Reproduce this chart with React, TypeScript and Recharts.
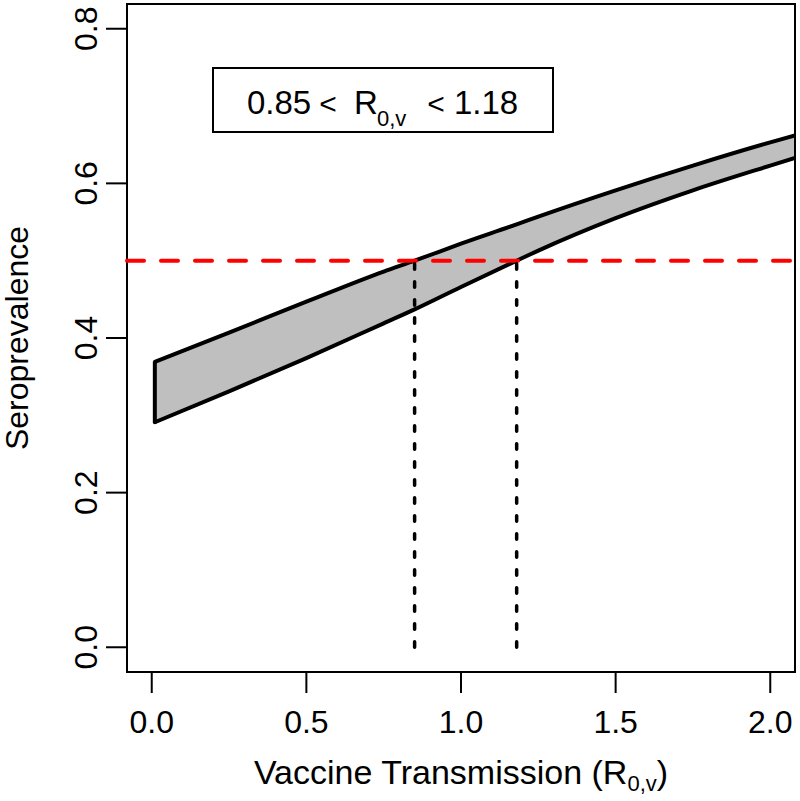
import React from "react";
import {
  ComposedChart,
  Area,
  Line,
  XAxis,
  YAxis,
  ReferenceLine,
  ReferenceArea,
} from "recharts";

// ---- data ----
const xValues = [0.01, 0.25, 0.5, 0.75, 0.85, 1.0, 1.18, 1.25, 1.5, 1.75, 2.0, 2.08];
const upperValues = [0.369, 0.407, 0.447, 0.486, 0.5, 0.522, 0.547, 0.557, 0.591, 0.623, 0.653, 0.662];
const lowerValues = [0.291, 0.331, 0.374, 0.419, 0.437, 0.466, 0.5, 0.513, 0.555, 0.591, 0.623, 0.633];

const xTicks = [0, 0.5, 1, 1.5, 2];
const xTickLabels = ["0.0", "0.5", "1.0", "1.5", "2.0"];
const yTicks = [0, 0.2, 0.4, 0.6, 0.8];
const yTickLabels = ["0.0", "0.2", "0.4", "0.6", "0.8"];

const threshold = 0.5;
const rLow = 0.85;
const rHigh = 1.18;

const data = xValues.map((x, i) => ({
  x,
  upper: upperValues[i],
  lower: lowerValues[i],
  band: [lowerValues[i], upperValues[i]],
}));

const FONT = "'Liberation Sans', Arial, Helvetica, sans-serif";

const XTick = (props: any) => {
  const { x, payload } = props;
  const idx = xTicks.indexOf(payload.value);
  return (
    <text x={x} y={733} textAnchor="middle" fontSize={32} fontFamily={FONT} fill="#000">
      {idx >= 0 ? xTickLabels[idx] : payload.value}
    </text>
  );
};

const YTick = (props: any) => {
  const { y, payload } = props;
  const idx = yTicks.indexOf(payload.value);
  const tx = 97;
  return (
    <text
      x={tx}
      y={y}
      transform={`rotate(-90, ${tx}, ${y})`}
      textAnchor="middle"
      fontSize={32}
      fontFamily={FONT}
      fill="#000"
    >
      {idx >= 0 ? yTickLabels[idx] : payload.value}
    </text>
  );
};

export default function App() {
  return (
    <div style={{ position: "absolute", left: 0, top: 0, width: 800, height: 801, background: "#fff" }}>
      <ComposedChart
        width={800}
        height={801}
        data={data}
        margin={{ top: 4, right: 5, left: 0, bottom: 0 }}
      >
        <XAxis
          dataKey="x"
          type="number"
          domain={[-0.08, 2.08]}
          ticks={xTicks}
          allowDataOverflow
          height={129}
          axisLine={false}
          tickLine={{ stroke: "#000", strokeWidth: 2 }}
          tickSize={21}
          tick={<XTick />}
          interval={0}
        />
        <YAxis
          type="number"
          domain={[-0.032, 0.832]}
          ticks={yTicks}
          allowDataOverflow
          width={127}
          axisLine={false}
          tickLine={{ stroke: "#000", strokeWidth: 2 }}
          tickSize={21}
          tick={<YTick />}
          interval={0}
        />
        <Area
          dataKey="band"
          type="monotone"
          fill="#bfbfbf"
          fillOpacity={1}
          stroke="none"
          isAnimationActive={false}
        />
        <Line
          dataKey="upper"
          type="monotone"
          stroke="#000"
          strokeWidth={4}
          dot={false}
          activeDot={false}
          isAnimationActive={false}
        />
        <Line
          dataKey="lower"
          type="monotone"
          stroke="#000"
          strokeWidth={4}
          dot={false}
          activeDot={false}
          isAnimationActive={false}
        />
        <ReferenceLine
          segment={[
            { x: xValues[0], y: lowerValues[0] },
            { x: xValues[0], y: upperValues[0] },
          ]}
          stroke="#000"
          strokeWidth={4}
          strokeLinecap="round"
          ifOverflow="visible"
        />
        <ReferenceLine
          y={threshold}
          stroke="#ff0000"
          strokeWidth={4}
          strokeDasharray="17 17"
          strokeLinecap="round"
          ifOverflow="visible"
        />
        <ReferenceLine
          segment={[
            { x: rLow, y: 0 },
            { x: rLow, y: threshold },
          ]}
          stroke="#000"
          strokeWidth={3.5}
          strokeDasharray="5.5 12.5"
          strokeLinecap="round"
          ifOverflow="visible"
        />
        <ReferenceLine
          segment={[
            { x: rHigh, y: 0 },
            { x: rHigh, y: threshold },
          ]}
          stroke="#000"
          strokeWidth={3.5}
          strokeDasharray="5.5 12.5"
          strokeLinecap="round"
          ifOverflow="visible"
        />
        <ReferenceArea
          x1={-0.08}
          x2={2.08}
          y1={-0.032}
          y2={0.832}
          fill="none"
          fillOpacity={0}
          stroke="#000"
          strokeWidth={2}
          ifOverflow="visible"
        />
      </ComposedChart>
      <svg
        width={800}
        height={801}
        style={{ position: "absolute", left: 0, top: 0, pointerEvents: "none" }}
      >
        <rect x={213} y={68} width={340} height={64} fill="#fff" stroke="#000" strokeWidth={2} />
        <g fontFamily={FONT} fill="#000">
          <text x={247} y={114} fontSize={33}>0.85</text>
          <text x={328} y={114} fontSize={30} textAnchor="middle">&lt;</text>
          <text x={354} y={114} fontSize={33}>R</text>
          <text x={377} y={126} fontSize={22}>0,v</text>
          <text x={436} y={114} fontSize={30} textAnchor="middle">&lt;</text>
          <text x={454} y={114} fontSize={33}>1.18</text>

          <text x={461} y={784} fontSize={34} textAnchor="middle">
            Vaccine Transmission (R
            <tspan fontSize={22} dy={7}>0,v</tspan>
            <tspan dy={-7}>)</tspan>
          </text>

          <text
            x={28}
            y={338}
            fontSize={32}
            textAnchor="middle"
            transform="rotate(-90, 28, 338)"
          >
            Seroprevalence
          </text>
        </g>
      </svg>
    </div>
  );
}
